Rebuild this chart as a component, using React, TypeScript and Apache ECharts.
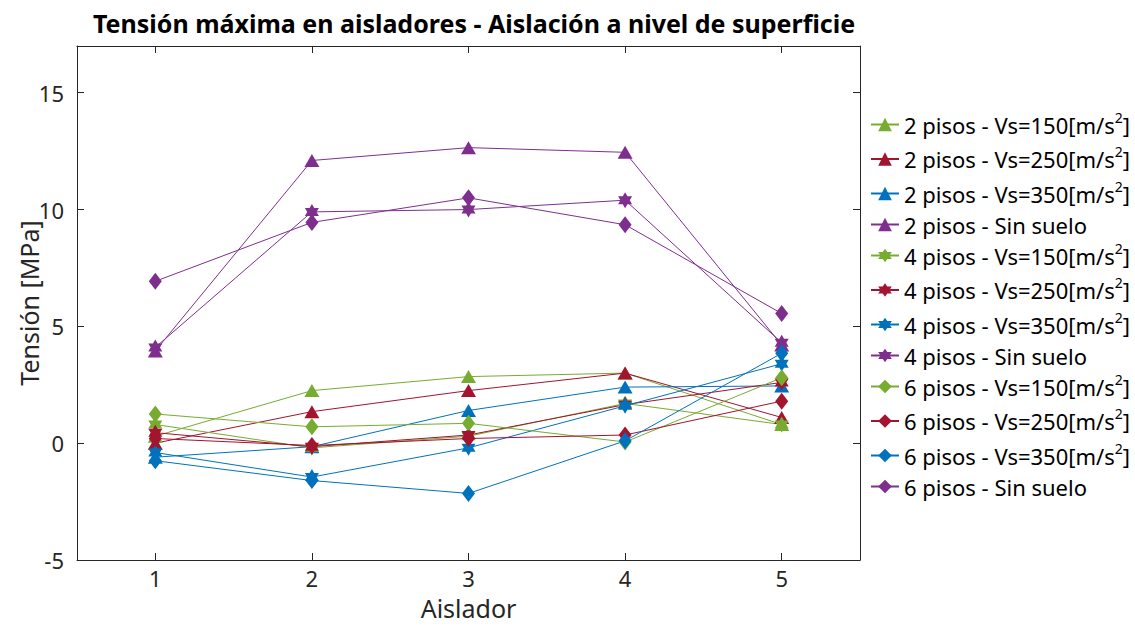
import React, { useEffect, useRef } from 'react';
import * as echarts from 'echarts';

const categories = ['1', '2', '3', '4', '5'];

const p2_150 = [0.3, 2.25, 2.85, 3.0, 0.8];
const p2_250 = [0.0, 1.35, 2.25, 3.0, 1.1];
const p2_350 = [-0.6, -0.15, 1.4, 2.4, 2.45];
const p2_sin = [3.95, 12.1, 12.65, 12.45, 4.2];
const p4_150 = [0.8, -0.2, 0.3, 1.7, 0.8];
const p4_250 = [0.45, -0.15, 0.35, 1.65, 2.6];
const p4_350 = [-0.4, -1.45, -0.2, 1.6, 3.4];
const p4_sin = [4.1, 9.9, 10.0, 10.4, 4.3];
const p6_150 = [1.25, 0.7, 0.85, 0.05, 2.8];
const p6_250 = [0.2, -0.1, 0.2, 0.35, 1.8];
const p6_350 = [-0.75, -1.6, -2.15, 0.1, 3.85];
const p6_sin = [6.93, 9.45, 10.5, 9.35, 5.55];

const seriesNames = [
  '2 pisos - Vs=150[m/s2]',
  '2 pisos - Vs=250[m/s2]',
  '2 pisos - Vs=350[m/s2]',
  '2 pisos - Sin suelo',
  '4 pisos - Vs=150[m/s2]',
  '4 pisos - Vs=250[m/s2]',
  '4 pisos - Vs=350[m/s2]',
  '4 pisos - Sin suelo',
  '6 pisos - Vs=150[m/s2]',
  '6 pisos - Vs=250[m/s2]',
  '6 pisos - Vs=350[m/s2]',
  '6 pisos - Sin suelo',
];
const seriesData = [p2_150, p2_250, p2_350, p2_sin, p4_150, p4_250, p4_350, p4_sin, p6_150, p6_250, p6_350, p6_sin];

const GREEN = '#77AC30';
const RED = '#A2142F';
const BLUE = '#0072BD';
const PURPLE = '#7E2F8E';
const colors = [GREEN, RED, BLUE, PURPLE];

const HEXAGRAM =
  'path://M50,0L64.43,25L93.3,25L78.87,50L93.3,75L64.43,75L50,100L35.57,75L6.7,75L21.13,50L6.7,25L35.57,25Z';

const FONT = '"Noto Sans", "Open Sans", sans-serif';
const AX = '#262626';

export default function App() {
  const ref = useRef<HTMLDivElement>(null);

  useEffect(() => {
    if (!ref.current) return;
    const chart = echarts.init(ref.current, null, { renderer: 'svg' });

    const series = seriesNames.map((name, i) => {
      const group = Math.floor(i / 4);
      const color = colors[i % 4];
      let symbol: string = 'triangle';
      let symbolSize: any = [15, 13];
      if (group === 1) {
        symbol = HEXAGRAM;
        symbolSize = [14, 16];
      } else if (group === 2) {
        symbol = 'diamond';
        symbolSize = [13, 17];
      }
      return {
        name,
        type: 'line',
        xAxisIndex: 0,
        yAxisIndex: 0,
        data: seriesData[i],
        symbol,
        symbolSize,
        showSymbol: true,
        lineStyle: { width: 1, color },
        itemStyle: { color, borderColor: color, borderWidth: 0 },
        emphasis: { disabled: true },
      };
    });

    const option: any = {
      animation: false,
      backgroundColor: '#ffffff',
      title: {
        text: 'Tensión máxima en aisladores - Aislación a nivel de superficie',
        left: 469,
        textAlign: 'center',
        top: 5,
        textStyle: { fontFamily: FONT, fontSize: 25, fontWeight: 'bold', color: '#000' },
      },
      grid: { left: 77, right: 275, top: 46, bottom: 66, containLabel: false, outerBoundsMode: 'none' },
      legend: {
        orient: 'vertical',
        left: 870,
        top: 110,
        padding: 0,
        itemWidth: 28,
        itemHeight: 17,
        itemGap: 5.5,
        data: seriesNames,
        formatter: (name: string) => {
          const i = name.indexOf('[m/s2]');
          if (i >= 0) return `{n|${name.slice(0, i)}[m/s}{s|2}{n|]}`;
          return `{n|${name}}`;
        },
        textStyle: {
          color: '#000',
          fontFamily: FONT,
          fontSize: 22,
          rich: {
            n: { fontFamily: FONT, fontSize: 22, lineHeight: 26, color: '#000' },
            s: { fontFamily: FONT, fontSize: 14, lineHeight: 16, padding: [0, 0, 15, 0], color: '#000' },
          },
        },
      },
      xAxis: [
        {
          type: 'category',
          data: categories,
          boundaryGap: true,
          position: 'bottom',
          name: 'Aislador',
          nameLocation: 'middle',
          nameGap: 35,
          nameMoveOverlap: false,
          nameTextStyle: { fontFamily: FONT, fontSize: 25, lineHeight: 25, color: AX },
          axisLine: { show: true, onZero: false, lineStyle: { color: AX, width: 1 } },
          axisTick: { show: true, inside: true, alignWithLabel: true, length: 7, lineStyle: { color: AX } },
          axisLabel: { fontFamily: FONT, fontSize: 22, lineHeight: 20, color: AX, margin: 8 },
          splitLine: { show: false },
        },
        {
          type: 'category',
          data: categories,
          boundaryGap: true,
          position: 'top',
          axisLine: { show: true, onZero: false, lineStyle: { color: AX, width: 1 } },
          axisTick: { show: true, inside: true, alignWithLabel: true, length: 7, lineStyle: { color: AX } },
          axisLabel: { show: false },
          splitLine: { show: false },
        },
      ],
      yAxis: [
        {
          type: 'value',
          min: -5,
          max: 17,
          interval: 5,
          position: 'left',
          name: 'Tensión [MPa]',
          nameLocation: 'middle',
          nameGap: 36,
          nameMoveOverlap: false,
          nameTextStyle: { fontFamily: FONT, fontSize: 25, lineHeight: 25, color: AX },
          axisLine: { show: true, onZero: false, lineStyle: { color: AX, width: 1 } },
          axisTick: { show: true, inside: true, length: 7, lineStyle: { color: AX } },
          axisLabel: { fontFamily: FONT, fontSize: 22, color: AX, margin: 13, showMaxLabel: false },
          splitLine: { show: false },
        },
        {
          type: 'value',
          min: -5,
          max: 17,
          interval: 5,
          position: 'right',
          axisLine: { show: true, onZero: false, lineStyle: { color: AX, width: 1 } },
          axisTick: { show: true, inside: true, length: 7, lineStyle: { color: AX } },
          axisLabel: { show: false },
          splitLine: { show: false },
        },
      ],
      series,
    };

    chart.setOption(option);
    return () => chart.dispose();
  }, []);

  return <div ref={ref} style={{ position: 'absolute', left: 0, top: 0, width: 1135, height: 626 }} />;
}
